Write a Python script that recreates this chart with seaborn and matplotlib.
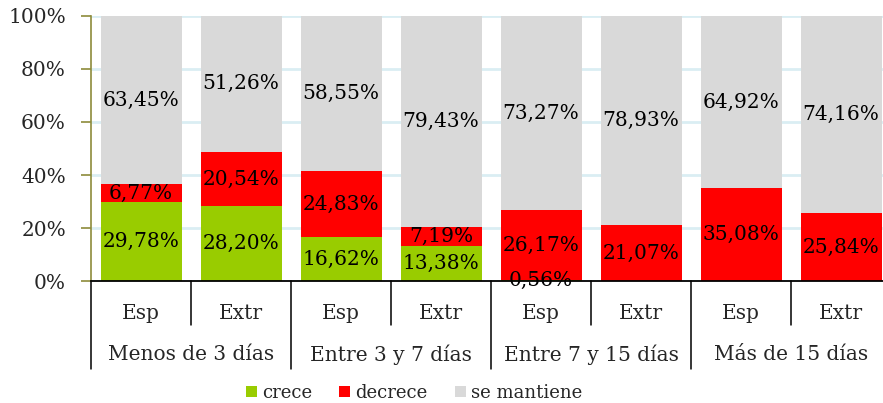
import matplotlib
matplotlib.use("Agg")
import matplotlib.pyplot as plt
import seaborn as sns
import pandas as pd
from matplotlib.patches import Patch
from matplotlib.ticker import MultipleLocator, PercentFormatter

groups = ["Menos de 3 días", "Entre 3 y 7 días", "Entre 7 y 15 días", "Más de 15 días"]
origins = ["Esp", "Extr"]
crece = [29.78, 28.20, 16.62, 13.38, 0.56, 0.0, 0.0, 0.0]
decrece = [6.77, 20.54, 24.83, 7.19, 26.17, 21.07, 35.08, 25.84]
mantiene = [63.45, 51.26, 58.55, 79.43, 73.27, 78.93, 64.92, 74.16]

colors = {"crece": "#99CC00", "decrece": "#FF0000", "se mantiene": "#D9D9D9"}

bars = [g + "|" + o for g in groups for o in origins]
df = pd.DataFrame({"bar": bars, "crece": crece, "decrece": decrece, "mantiene": mantiene})
df["top_decrece"] = df["crece"] + df["decrece"]
df["top_mantiene"] = df["top_decrece"] + df["mantiene"]

sns.set_style("white")
plt.rcParams["font.family"] = ["DejaVu Serif"]

W, H = 883, 403
fig = plt.figure(figsize=(W / 100, H / 100), dpi=100)
# plot area runs past the right edge, as in the original
ax = fig.add_axes([91 / W, (H - 281.3) / H, 800 / W, 265.6 / H])

# stacked look: draw cumulative totals from the top down
bar_kw = dict(saturation=1, width=0.81, linewidth=0, edgecolor="none", ax=ax)
sns.barplot(data=df, x="bar", y="top_mantiene", color=colors["se mantiene"], **bar_kw)
sns.barplot(data=df, x="bar", y="top_decrece", color=colors["decrece"], **bar_kw)
sns.barplot(data=df, x="bar", y="crece", color=colors["crece"], **bar_kw)

ax.set_xlim(-0.5, len(bars) - 0.5)
ax.set_ylim(0, 100)
ax.set_xlabel("")
ax.set_ylabel("")

# data labels in the middle of each segment
fs = 14.5
for i, row in df.iterrows():
    base = 0
    for col in ["crece", "decrece", "mantiene"]:
        v = row[col]
        if v > 0:
            ax.text(i, base + v / 2, f"{v:.2f}%".replace(".", ","), ha="center", va="center",
                    fontsize=fs, color="black")
        base += v

# y axis
ax.yaxis.set_major_locator(MultipleLocator(20))
ax.yaxis.set_major_formatter(PercentFormatter(decimals=0))
ax.yaxis.grid(True, color="#DAEEF3", lw=2)
ax.set_axisbelow(True)
olive = "#8D8B3B"
ax.spines["left"].set_color(olive)
ax.spines["left"].set_linewidth(1.2)
ax.tick_params(axis="y", direction="out", length=7, width=1.2, color=olive, pad=11, labelsize=fs, left=True)
for side in ["top", "right"]:
    ax.spines[side].set_visible(False)
ax.spines["bottom"].set_color("black")
ax.spines["bottom"].set_linewidth(1.3)

# x axis: two level categories
ax.set_xticks(range(len(bars)))
ax.set_xticklabels([b.split("|")[1] for b in bars])
ax.tick_params(axis="x", length=0, pad=16, labelsize=fs)

trans = ax.get_xaxis_transform()
short = -44 / 265.6
long_ = -88 / 265.6
for k in range(len(bars) + 1):
    x = k - 0.5
    y1 = long_ if k % 2 == 0 else short
    ax.plot([x, x], [0, y1], color="black", lw=1.1, transform=trans, clip_on=False)

for j, g in enumerate(groups):
    ax.text(2 * j + 0.5, -(355 - 281.3) / 265.6, g, transform=trans, ha="center", va="center", fontsize=fs)

handles = [Patch(facecolor=c, edgecolor="none", label=k) for k, c in colors.items()]
fig.legend(handles=handles, loc="center", bbox_to_anchor=(414 / W, 1 - 393 / H), ncol=3, frameon=False,
           fontsize=13, handlelength=0.6, handleheight=0.6, handletextpad=0.3, columnspacing=1.5)

fig.savefig("out.png", dpi=100)
